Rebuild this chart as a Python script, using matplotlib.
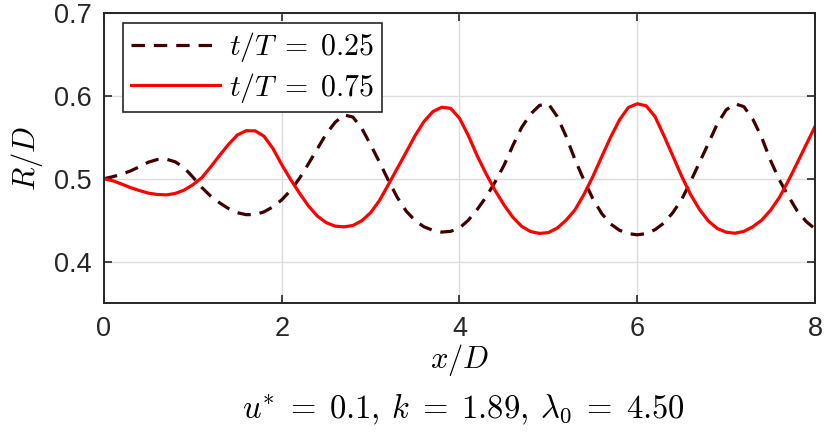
import numpy as np
import matplotlib
matplotlib.use("Agg")
import matplotlib.pyplot as plt

x_over_D = [round(0.1 * i, 1) for i in range(81)]

R_t025 = [0.5000, 0.5025, 0.5055, 0.5095, 0.5145, 0.5200, 0.5232, 0.5236, 0.5205, 0.5135,
          0.5020, 0.4895, 0.4790, 0.4710, 0.4640, 0.4590, 0.4566, 0.4568, 0.4600, 0.4660,
          0.4745, 0.4860, 0.5005, 0.5180, 0.5360, 0.5540, 0.5680, 0.5770, 0.5745, 0.5610,
          0.5410, 0.5200, 0.4980, 0.4775, 0.4610, 0.4495, 0.4420, 0.4378, 0.4356, 0.4365,
          0.4405, 0.4500, 0.4630, 0.4780, 0.4960, 0.5160, 0.5400, 0.5620, 0.5780, 0.5885,
          0.5905, 0.5750, 0.5510, 0.5230, 0.4984, 0.4760, 0.4580, 0.4455, 0.4378, 0.4338,
          0.4323, 0.4338, 0.4385, 0.4465, 0.4590, 0.4750, 0.4965, 0.5195, 0.5425, 0.5660,
          0.5830, 0.5905, 0.5870, 0.5720, 0.5500, 0.5220, 0.4985, 0.4790, 0.4612, 0.4485,
          0.4395]

R_t075 = [0.5000, 0.4975, 0.4935, 0.4892, 0.4857, 0.4826, 0.4810, 0.4805, 0.4822, 0.4862,
          0.4927, 0.5012, 0.5142, 0.5280, 0.5413, 0.5527, 0.5580, 0.5578, 0.5513, 0.5366,
          0.5170, 0.4990, 0.4825, 0.4672, 0.4550, 0.4470, 0.4428, 0.4419, 0.4436, 0.4492,
          0.4590, 0.4738, 0.4930, 0.5125, 0.5320, 0.5520, 0.5690, 0.5810, 0.5863, 0.5850,
          0.5730, 0.5520, 0.5275, 0.5058, 0.4860, 0.4685, 0.4535, 0.4425, 0.4362, 0.4340,
          0.4350, 0.4405, 0.4500, 0.4625, 0.4810, 0.5025, 0.5265, 0.5500, 0.5710, 0.5860,
          0.5905, 0.5880, 0.5750, 0.5520, 0.5276, 0.5030, 0.4810, 0.4630, 0.4490, 0.4400,
          0.4355, 0.4342, 0.4365, 0.4420, 0.4500, 0.4620, 0.4775, 0.4975, 0.5190, 0.5410,
          0.5630]

x_ticks = [0, 2, 4, 6, 8]
y_ticks = [0.4, 0.5, 0.6, 0.7]
legend_labels = [r"$t/T\;=\;0.25$", r"$t/T\;=\;0.75$"]
xlabel = r"$x/D$"
ylabel = r"$R/D$"
subtitle = r"$u^{*}\;=\;0.1,\:k\;=\;1.89,\:\lambda_0\;=\;4.50$"

plt.rcParams["mathtext.fontset"] = "cm"
plt.rcParams["font.family"] = ["Liberation Sans", "DejaVu Sans"]

fig = plt.figure(figsize=(8.3, 4.37), dpi=100)
ax = fig.add_axes([0.1253, 0.3066, 0.8566, 0.6636])

frame_col = "#262626"
l1, = ax.plot(x_over_D, R_t025, color="#400000", lw=2.3, linestyle="--", dashes=(4.2, 2.8))
l2, = ax.plot(x_over_D, R_t075, color="#ff0000", lw=2.3)

ax.set_xlim(0, 8)
ax.set_ylim(0.35, 0.7)
ax.set_xticks(x_ticks)
ax.set_yticks(y_ticks)
ax.set_xticklabels([str(v) for v in x_ticks])
ax.set_yticklabels([f"{v:.1f}" for v in y_ticks])
ax.grid(True, color="#dcdcdc", lw=1.0)
ax.tick_params(direction="in", length=6, width=1.2, colors=frame_col, labelsize=19.5,
               top=True, right=True, pad=9)
ax.tick_params(axis="y", pad=9)
for s in ax.spines.values():
    s.set_color(frame_col)
    s.set_linewidth(1.4)

ax.set_xlabel(xlabel, fontsize=22, labelpad=0)
ax.set_ylabel(ylabel, fontsize=22, labelpad=6)
fig.text(0.5583, 0.062, subtitle, ha="center", va="center", fontsize=23.5)

leg = ax.legend([l1, l2], legend_labels, loc="upper left", fontsize=21.5,
                bbox_to_anchor=(0.027, 0.966), frameon=True, fancybox=False,
                handlelength=3.0, handletextpad=0.3, borderpad=0.25,
                labelspacing=0.22, borderaxespad=0.0)
leg.get_frame().set_edgecolor(frame_col)
leg.get_frame().set_linewidth(1.2)
leg.get_frame().set_alpha(1.0)

fig.savefig("out.png", dpi=100)
